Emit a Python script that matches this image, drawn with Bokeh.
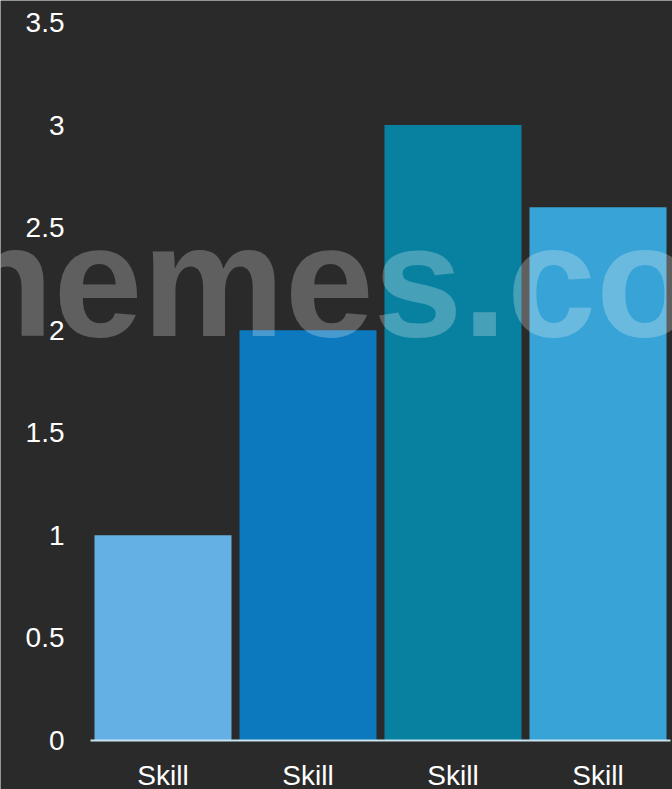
from bokeh.plotting import figure
from bokeh.models import Range1d, FixedTicker, Label
from bokeh.embed import file_html
from bokeh.resources import INLINE

categories = ["Skill", "Skill", "Skill", "Skill"]
values = [1.0, 2.0, 3.0, 2.6]
colors = ["#64afe3", "#0c79be", "#0880a0", "#38a3d6"]
y_ticks = [0, 0.5, 1, 1.5, 2, 2.5, 3, 3.5]
watermark = "hemes.co"

xs = [i + 0.5 for i in range(len(categories))]
n = len(categories)
px_x = 145.0          # pixels per category
px_y = 718 / 3.5      # pixels per unit value

p = figure(width=672, height=789, output_backend="svg", toolbar_location=None,
           x_range=Range1d(-90 / px_x, n + 2 / px_x),
           y_range=Range1d(-49 / px_y, 3.5 + 22 / px_y),
           min_border=0)

bg = "#2a2a2a"
p.background_fill_color = bg
p.border_fill_color = bg
p.outline_line_color = None
p.xgrid.visible = False
p.ygrid.visible = False

p.vbar(x=xs, top=values, width=0.945, bottom=0, fill_color=colors, line_color=None)

p.xaxis.fixed_location = 0
p.xaxis.ticker = FixedTicker(ticks=xs)
p.xaxis.bounds = (0, n)
p.xaxis.major_label_overrides = {x: c for x, c in zip(xs, categories)}
p.xaxis.axis_line_color = "#c8e4f0"
p.xaxis.axis_line_width = 2
p.xaxis.major_tick_line_color = None
p.xaxis.minor_tick_line_color = None
p.xaxis.major_label_text_color = "white"
p.xaxis.major_label_text_font = "Liberation Sans"
p.xaxis.major_label_text_font_size = "28px"
p.xaxis.major_label_standoff = 13

p.yaxis.fixed_location = 0
p.yaxis.ticker = FixedTicker(ticks=y_ticks)
p.yaxis.major_label_overrides = {t: (str(t).rstrip("0").rstrip(".") if isinstance(t, float) else str(t)) for t in y_ticks}
p.yaxis.axis_line_color = None
p.yaxis.major_tick_line_color = None
p.yaxis.minor_tick_line_color = None
p.yaxis.major_label_text_color = "white"
p.yaxis.major_label_text_font = "Liberation Sans"
p.yaxis.major_label_text_font_size = "28px"
p.yaxis.major_label_standoff = 20

wm = Label(x=-0.930, y=2.242, text=watermark, text_font="Liberation Sans",
           text_font_style="bold", text_font_size="160px", text_color="white",
           text_alpha=0.25, text_baseline="alphabetic", text_align="left")
p.add_layout(wm)

open("out.html", "w").write(file_html(p, INLINE))
